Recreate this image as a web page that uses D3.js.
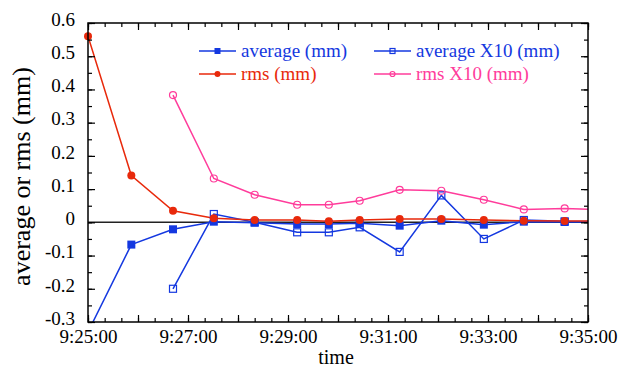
<!DOCTYPE html>
<html><head><meta charset="utf-8">
<script src="https://cdn.jsdelivr.net/npm/d3@7"></script>
<style>body{margin:0;background:#fff}svg{display:block}svg text{font-family:"Liberation Serif","Tinos","Times New Roman",Times,"DejaVu Serif",serif !important}</style>
</head><body>
<svg id="c" width="619" height="367"></svg>
<script>
const times = ["9:25:00","9:25:52","9:26:42","9:27:31","9:28:20","9:29:11","9:29:49","9:30:26","9:31:14","9:32:04","9:32:55","9:33:43","9:34:32","9:35:22"];
const average    = [-0.330,-0.067,-0.021, 0.002,-0.001,-0.005,-0.005,-0.003,-0.010, 0.005,-0.007, 0.002, 0.001, 0.001];
const rms        = [ 0.560, 0.141, 0.035, 0.012, 0.007, 0.007, 0.003, 0.007, 0.010, 0.010, 0.007, 0.005, 0.004, 0.004];
const averageX10 = [ null,  null, -0.200, 0.025, 0.000,-0.030,-0.030,-0.015,-0.089, 0.081,-0.050, 0.007, 0.003, 0.002];
const rmsX10     = [ null,  null,  0.383, 0.132, 0.083, 0.053, 0.053, 0.065, 0.098, 0.095, 0.068, 0.039, 0.042, 0.037];
const seriesNames = ["average (mm)","average X10 (mm)","rms (mm)","rms X10 (mm)"];
const yTickValues = [-0.3,-0.2,-0.1,0,0.1,0.2,0.3,0.4,0.5,0.6];
const xStart = "9:25:00", xEnd = "9:35:00";

const FONT = '"Liberation Serif","Tinos","Times New Roman",Times,"DejaVu Serif",serif';
const parse = d3.timeParse("%H:%M:%S");
const W = 619, H = 367, m = {l:88, r:31, t:23, b:45};
const svg = d3.select("#c");
const x = d3.scaleTime().domain([parse(xStart), parse(xEnd)]).range([m.l, W - m.r]);
const y = d3.scaleLinear().domain([-0.3, 0.6]).range([H - m.b, m.t]);

const blue = "#1438e0", red = "#e8290b", pink = "#ff3c9b";
const series = [
  {name: seriesNames[0], vals: average, color: blue, marker: "fsq"},
  {name: seriesNames[1], vals: averageX10, color: blue, marker: "osq"},
  {name: seriesNames[2], vals: rms, color: red, marker: "fci"},
  {name: seriesNames[3], vals: rmsX10, color: pink, marker: "oci"}
];

svg.append("defs").append("clipPath").attr("id","clip")
  .append("rect").attr("x", m.l).attr("y", m.t).attr("width", W-m.l-m.r).attr("height", H-m.t-m.b);

svg.append("line").attr("x1", m.l).attr("x2", W-m.r).attr("y1", y(0)).attr("y2", y(0))
  .attr("stroke", "#222").attr("stroke-width", 1.5);

const plot = svg.append("g").attr("clip-path","url(#clip)");
const marks = svg.append("g");
function drawMarker(g, type, color, cx, cy, s) {
  if (type === "fsq") g.append("rect").attr("x", cx-s/2).attr("y", cy-s/2).attr("width", s).attr("height", s).attr("fill", color);
  else if (type === "osq") g.append("rect").attr("x", cx-s/2+0.5).attr("y", cy-s/2+0.5).attr("width", s-1).attr("height", s-1).attr("fill", "none").attr("stroke", color).attr("stroke-width", 1.2);
  else if (type === "fci") g.append("circle").attr("cx", cx).attr("cy", cy).attr("r", s/2).attr("fill", color);
  else g.append("circle").attr("cx", cx).attr("cy", cy).attr("r", s/2-0.5).attr("fill", "none").attr("stroke", color).attr("stroke-width", 1.2);
}
const xd = x.domain(), yd = y.domain();
series.forEach(s => {
  const pts = times.map((t, k) => ({t: parse(t), v: s.vals[k]})).filter(p => p.v !== null);
  plot.append("path").datum(pts)
    .attr("d", d3.line().x(p => x(p.t)).y(p => y(p.v)))
    .attr("fill", "none").attr("stroke", s.color).attr("stroke-width", 1.5);
});
series.forEach(s => {
  const pts = times.map((t, k) => ({t: parse(t), v: s.vals[k]}))
    .filter(p => p.v !== null && p.t >= xd[0] && p.t <= xd[1] && p.v >= yd[0] && p.v <= yd[1]);
  const g = marks.append("g");
  pts.forEach(p => drawMarker(g, s.marker, s.color, x(p.t), y(p.v), 8));
});

const fmt = d3.timeFormat("%-H:%M:%S");
const majorX = d3.timeMinute.every(1).range(parse(xStart), d3.timeSecond.offset(parse(xEnd), 1));
const minorX = d3.timeSecond.every(20).range(parse(xStart), d3.timeSecond.offset(parse(xEnd), 1));
const minorY = d3.range(-0.3, 0.6001, 0.05);

function styleAxis(g){ g.attr("font-family", FONT); g.select(".domain").remove(); g.selectAll("line").attr("stroke","#000").attr("stroke-width",1.2); }
svg.append("g").attr("transform",`translate(0,${H-m.b})`)
  .call(d3.axisBottom(x).tickValues(minorX).tickSize(-4).tickFormat("")).call(styleAxis);
const bx = svg.append("g").attr("transform",`translate(0,${H-m.b})`)
  .call(d3.axisBottom(x).tickValues(majorX).tickSize(-7).tickPadding(8)
    .tickFormat(d => d.getMinutes() % 2 === 1 ? fmt(d) : "")).call(styleAxis);
bx.selectAll("text").attr("font-size", 19).attr("fill","#000");
svg.append("g").attr("transform",`translate(0,${m.t})`)
  .call(d3.axisTop(x).tickValues(minorX).tickSize(-4).tickFormat("")).call(styleAxis);
svg.append("g").attr("transform",`translate(0,${m.t})`)
  .call(d3.axisTop(x).tickValues(majorX).tickSize(-7).tickFormat("")).call(styleAxis);

svg.append("g").attr("transform",`translate(${m.l},0)`)
  .call(d3.axisLeft(y).tickValues(minorY).tickSize(-4).tickFormat("")).call(styleAxis);
const ly = svg.append("g").attr("transform",`translate(${m.l},0)`)
  .call(d3.axisLeft(y).tickValues(yTickValues).tickSize(-7).tickPadding(13)
    .tickFormat(d => d === 0 ? "0" : d3.format(".1f")(d).replace("−","-"))).call(styleAxis);
ly.selectAll("text").attr("font-size", 19).attr("fill","#000").attr("dy","0.12em");
svg.append("g").attr("transform",`translate(${W-m.r},0)`)
  .call(d3.axisRight(y).tickValues(minorY).tickSize(-4).tickFormat("")).call(styleAxis);
svg.append("g").attr("transform",`translate(${W-m.r},0)`)
  .call(d3.axisRight(y).tickValues(yTickValues).tickSize(-7).tickFormat("")).call(styleAxis);

svg.append("rect").attr("x", m.l).attr("y", m.t).attr("width", W-m.l-m.r).attr("height", H-m.t-m.b)
  .attr("fill","none").attr("stroke","#000").attr("stroke-width",1.5);

svg.append("text").attr("x", 336).attr("y", 364).attr("text-anchor","middle")
  .attr("font-family", FONT).attr("font-size", 20).text("time");
svg.append("text").attr("transform",`translate(30,${(m.t + H - m.b)/2 + 4}) rotate(-90)`)
  .attr("font-family", FONT).attr("text-anchor","middle").attr("font-size", 26).text("average or rms (mm)");

const legPos = [[199,57],[374,57],[199,80],[374,80]];
series.forEach((s, i) => {
  const [lx, ly2] = legPos[i];
  const g = svg.append("g");
  g.append("line").attr("x1", lx).attr("x2", lx+37).attr("y1", ly2-6).attr("y2", ly2-6).attr("stroke", s.color).attr("stroke-width", 1.5);
  drawMarker(g, s.marker, s.color, lx+18.5, ly2-6, 6);
  g.append("text").attr("x", lx+42).attr("y", ly2).attr("font-family", FONT).attr("font-size", 19).attr("fill", s.color).text(s.name);
});
</script>
</body></html>
